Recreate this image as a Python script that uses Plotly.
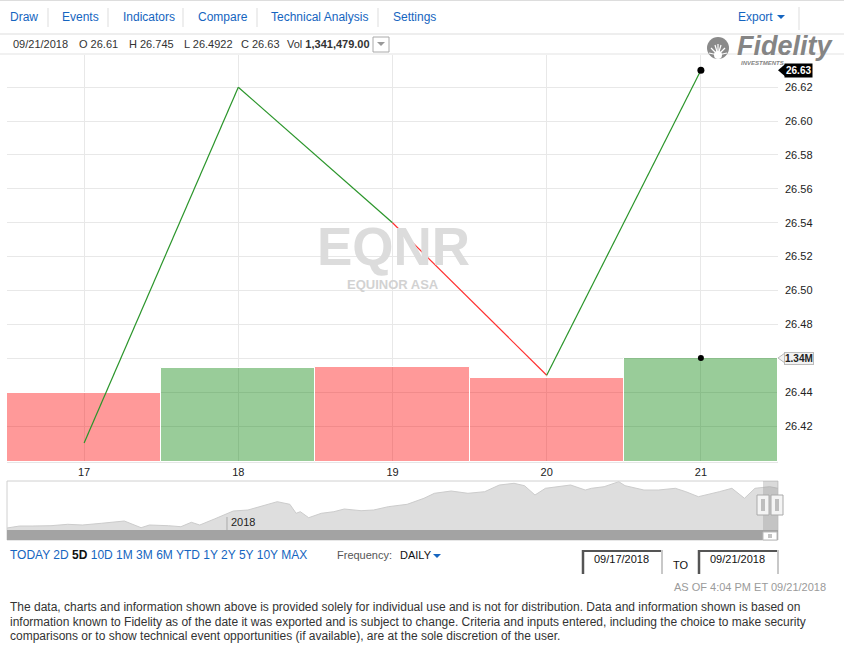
import plotly.graph_objects as go

W, H = 844, 649

# ---- data ----
days = ['17', '18', '19', '20', '21']
close = [26.41, 26.62, 26.54, 26.45, 26.63]
volume = [889000, 1211000, 1224000, 1082000, 1341479]
vol_side = ['down', 'up', 'down', 'down', 'up']
seg_side = ['up', 'up', 'down', 'up']
price_ticks = [26.42, 26.44, 26.46, 26.48, 26.50, 26.52, 26.54, 26.56, 26.58, 26.60, 26.62]

last_date = '09/21/2018'
last_open = 26.61
last_high = 26.745
last_low = 26.4922

nav_dates = ['2017-09-18', '2017-09-24', '2017-09-30', '2017-10-09', '2017-10-17', '2017-10-24',
             '2017-11-02', '2017-11-10', '2017-11-13', '2017-11-21', '2017-11-25', '2017-12-04',
             '2017-12-10', '2017-12-15', '2017-12-19', '2017-12-26', '2018-01-04', '2018-01-11',
             '2018-01-17', '2018-01-25', '2018-01-31', '2018-02-03', '2018-02-05', '2018-02-09',
             '2018-02-15', '2018-02-21', '2018-02-26', '2018-03-06', '2018-03-12', '2018-03-19',
             '2018-03-28', '2018-04-05', '2018-04-10', '2018-04-18', '2018-04-26', '2018-05-04',
             '2018-05-11', '2018-05-18', '2018-05-23', '2018-05-28', '2018-06-02', '2018-06-08',
             '2018-06-14', '2018-06-21', '2018-06-24', '2018-06-30', '2018-07-07', '2018-07-10',
             '2018-07-19', '2018-07-26', '2018-08-03', '2018-08-08', '2018-08-14', '2018-08-24',
             '2018-08-30', '2018-09-05', '2018-09-10', '2018-09-17', '2018-09-21']
nav_close = [19.32, 19.64, 19.64, 19.69, 19.91, 19.80,
             20.07, 20.33, 20.44, 19.37, 19.80, 19.69,
             19.53, 20.23, 19.80, 20.76, 22.04, 22.20,
             22.73, 23.53, 23.11, 21.67, 21.93, 20.97,
             21.67, 21.93, 22.36, 22.09, 22.20, 22.73,
             23.11, 24.07, 24.87, 25.24, 24.87, 25.13,
             26.20, 26.47, 26.09, 24.60, 25.67, 25.93,
             26.20, 25.40, 25.67, 25.93, 26.73, 26.09,
             25.40, 25.40, 25.67, 25.13, 24.33, 25.13,
             25.67, 24.07, 25.67, 25.93, 25.67]

menu_items = ['Draw', 'Events', 'Indicators', 'Compare', 'Technical Analysis', 'Settings']
range_buttons = ['TODAY', '2D', '5D', '10D', '1M', '3M', '6M', 'YTD', '1Y', '2Y', '5Y', '10Y', 'MAX']
active_range = '5D'
date_from, date_to = '09/17/2018', '09/21/2018'
as_of = 'AS OF 4:04 PM ET 09/21/2018'
symbol, company = 'EQNR', 'EQUINOR ASA'
footer = ['The data, charts and information shown above is provided solely for individual use and is not for distribution. Data and information shown is based on',
          'information known to Fidelity as of the date it was exported and is subject to change. Criteria and inputs entered, including the choice to make security',
          'comparisons or to show technical event opportunities (if available), are at the sole discretion of the user.']

FONT = 'Liberation Sans, Arial, sans-serif'
BLUE = '#1565c0'
side_color = {'up': 'rgba(0,128,0,0.4)', 'down': 'rgba(255,0,0,0.4)'}
line_color = {'up': '#2a952a', 'down': '#ff3030'}


def px(x):
    return x / W


def py(y):
    return 1 - y / H


shapes = []
annotations = []


def rect(x0, y0, x1, y1, fill=None, line='rgba(0,0,0,0)', lw=1):
    shapes.append(dict(type='rect', xref='paper', yref='paper', x0=px(x0), x1=px(x1),
                       y0=py(y1), y1=py(y0), fillcolor=fill, line=dict(color=line, width=lw), layer='above'))


def hline(x0, x1, y, color='#e0e0e0', lw=1):
    shapes.append(dict(type='line', xref='paper', yref='paper', x0=px(x0), x1=px(x1),
                       y0=py(y), y1=py(y), line=dict(color=color, width=lw), layer='above'))


def vline(x, y0, y1, color='#e0e0e0', lw=1):
    shapes.append(dict(type='line', xref='paper', yref='paper', x0=px(x), x1=px(x),
                       y0=py(y0), y1=py(y1), line=dict(color=color, width=lw), layer='above'))


def caret(x, y, color):
    shapes.append(dict(type='path', xref='paper', yref='paper', fillcolor=color, line=dict(width=0),
                       path=f'M {px(x - 4)},{py(y - 2)} L {px(x + 4)},{py(y - 2)} L {px(x)},{py(y + 2)} Z'))


def text(s, x, y, size=11, color='#333', xanchor='left', **kw):
    annotations.append(dict(text=s, x=px(x), y=py(y), xref='paper', yref='paper', showarrow=False,
                            xanchor=xanchor, yanchor='middle', font=dict(family=FONT, size=size, color=color), **kw))


fig = go.Figure()

# volume bars (primary y), price line on top (y2)
fig.add_trace(go.Bar(x=days, y=volume, marker=dict(color=[side_color[s] for s in vol_side],
                     line=dict(color='white', width=1)), xaxis='x', yaxis='y', hoverinfo='skip'))
fig.add_trace(go.Scatter(x=days[-1:], y=volume[-1:], mode='markers', marker=dict(color='black', size=6),
                         xaxis='x', yaxis='y'))
for i, s in enumerate(seg_side):
    fig.add_trace(go.Scatter(x=days[i:i + 2], y=close[i:i + 2], mode='lines',
                             line=dict(color=line_color[s], width=1.2), xaxis='x', yaxis='y2'))
fig.add_trace(go.Scatter(x=days[-1:], y=close[-1:], mode='markers', marker=dict(color='black', size=7),
                         xaxis='x', yaxis='y2'))

# navigator
fig.add_trace(go.Scatter(x=nav_dates, y=nav_close, mode='lines', fill='tozeroy', fillcolor='#dedede',
                         line=dict(color='#cccccc', width=1), xaxis='x2', yaxis='y3'))

# ---- page chrome ----
hline(0, W, 0.5, '#dddddd')
hline(0, W, 34, '#dddddd')
hline(0, W, 54, '#e3e3e3')
menu_x = [8, 60, 121, 196, 269, 391]
for name, x in zip(menu_items, menu_x):
    text(name, x, 17, 12, BLUE)
for x in [48, 108, 183, 257, 378]:
    vline(x, 8, 27, '#dddddd')
vline(799, 7, 30, '#dddddd')
text('Export', 736, 17, 12, BLUE)
caret(781, 17, BLUE)

text(last_date, 11, 44)
text(f'O {last_open}', 77, 44)
text(f'H {last_high}', 127, 44)
text(f'L {last_low}', 182, 44)
text(f'C {close[-1]}', 239, 44)
text(f'Vol <b>{volume[-1]:,.2f}</b>', 285, 44)
rect(373, 37, 389, 52, 'white', '#aaaaaa')
caret(381, 44, '#999999')

# watermark
text(f'<b>{symbol}</b>', 393, 246, 53, '#dcdcdc', 'center')
text(f'<b>{company}</b>', 393, 284, 13, '#d2d2d2', 'center')

# Fidelity logo
shapes.append(dict(type='circle', xref='paper', yref='paper', x0=px(707), x1=px(729), y0=py(59), y1=py(37),
                   fillcolor='#8a8a8a', line=dict(width=0)))
for dx, dy in [(-9, -2), (-7, -7), (-3, -10), (0, -11), (3, -10), (7, -7), (9, -2)]:
    shapes.append(dict(type='line', xref='paper', yref='paper', x0=px(718), y0=py(55), x1=px(718 + dx),
                       y1=py(55 + dy), line=dict(color='white', width=1.2)))
shapes.append(dict(type='circle', xref='paper', yref='paper', x0=px(714), x1=px(722), y0=py(59), y1=py(51),
                   fillcolor='white', line=dict(width=0)))
annotations.append(dict(text='Fidelity', x=px(735), y=py(46), xref='paper', yref='paper', showarrow=False,
                        xanchor='left', yanchor='middle',
                        font=dict(family=FONT, size=27, color='#858585', weight='bold', style='italic')))
annotations.append(dict(text='INVESTMENTS', x=px(739), y=py(63.5), xref='paper', yref='paper',
                        showarrow=False, xanchor='left', yanchor='middle',
                        font=dict(family=FONT, size=6, color='#858585', weight='bold', style='italic')))

# last value badges
annotations.append(dict(text=f'<b>{close[-1]:.2f}</b>', x=px(784), y=close[-1], xref='paper', yref='y2',
                        showarrow=False, xanchor='left', yanchor='middle', bgcolor='black', borderpad=1,
                        font=dict(family=FONT, size=10, color='white')))
shapes.append(dict(type='path', xref='paper', yref='y2', fillcolor='black', line=dict(width=0),
                   path=f'M {px(778)},{close[-1]} L {px(785)},{close[-1] + 0.0035} L {px(785)},{close[-1] - 0.0035} Z'))
vmax = volume[-1] * (462 - 55) / (462 - 358)
vstep = vmax / (462 - 55)
shapes.append(dict(type='path', xref='paper', yref='y', fillcolor='#f2f2f2', line=dict(color='#bbbbbb', width=1),
                   path=f'M {px(778)},{volume[-1]} L {px(785)},{volume[-1] + 5 * vstep} L {px(785)},{volume[-1] - 5 * vstep} Z'))
annotations.append(dict(text=f'<b>{volume[-1] / 1e6:.2f}M</b>', x=px(784), y=volume[-1], xref='paper', yref='y',
                        showarrow=False, xanchor='left', yanchor='middle', bgcolor='#f2f2f2', bordercolor='#bbbbbb',
                        borderwidth=1, borderpad=0, font=dict(family=FONT, size=10, color='#222')))

# navigator chrome
rect(7, 481, 778, 540, None, '#d0d0d0')
rect(7, 530, 778, 540, '#a3a3a3')
rect(763, 481, 778, 530, 'rgba(150,150,150,0.35)')
rect(763, 532, 777, 540, 'white', '#bbbbbb')
vline(769, 534, 538, '#888888')
vline(771, 534, 538, '#888888')
for hx in [757, 771]:
    rect(hx, 495, hx + 12, 515, '#f4f4f4', '#aaaaaa')
    vline(hx + 5, 499, 511, '#888888')
    vline(hx + 7, 499, 511, '#888888')
shapes.append(dict(type='line', xref='x2', yref='paper', x0='2018-01-01', x1='2018-01-01',
                   y0=py(530), y1=py(517), line=dict(color='#aaaaaa', width=1)))
annotations.append(dict(text='2018', x='2018-01-01', y=py(522), xref='x2', yref='paper', showarrow=False,
                        xanchor='left', yanchor='middle', xshift=2, font=dict(family=FONT, size=11, color='#222')))

# range buttons
parts = []
for r in range_buttons:
    if r == active_range:
        parts.append(f'<span style="color:#111"><b>{r}</b></span>')
    else:
        parts.append(f'<span style="color:{BLUE}">{r}</span>')
text(' '.join(parts), 8, 555, 12)
text('Frequency:', 335, 555, 11, '#555')
text('DAILY', 398, 555, 11, '#111')
caret(437, 556, BLUE)

# date boxes
for x0, d in [(582, date_from), (698, date_to)]:
    rect(x0, 550, x0 + 81, 574, 'white')
    vline(x0 + 1, 550, 574, '#555555', 2.5)
    hline(x0, x0 + 81, 551, '#555555', 2)
    vline(x0 + 80, 550, 574, '#c8c8c8', 2)
    text(d, x0 + 10, 559, 11, '#111')
text('TO', 671, 565, 11, '#111')
text(as_of, 828, 587, 11, '#9a9a9a', 'right')

for i, line in enumerate(footer):
    text(line, 8, 607 + i * 14.5, 12, '#333')

fig.update_layout(
    width=W, height=H, autosize=False, margin=dict(l=0, r=0, t=0, b=0),
    paper_bgcolor='white', plot_bgcolor='white', showlegend=False,
    font=dict(family=FONT, size=11, color='#222'),
    bargap=0,
    xaxis=dict(domain=[px(7), px(778)], type='category', range=[-0.5, 4.5], anchor='y',
               showgrid=True, gridcolor='#e8e8e8', ticks='', showline=True, linecolor='#e6e6e6',
               tickfont=dict(size=11, color='#222'), zeroline=False, fixedrange=True),
    yaxis=dict(domain=[py(462), py(55)], range=[0, vmax], visible=False, fixedrange=True),
    yaxis2=dict(overlaying='y', side='right', anchor='x', range=[26.3988, 26.639],
                tickmode='array', tickvals=price_ticks, tickformat='.2f', showgrid=True, gridcolor='#e8e8e8',
                zeroline=False, ticks='', ticklabelstandoff=6, tickfont=dict(size=11, color='#222')),
    xaxis2=dict(domain=[px(7), px(778)], type='date', range=['2017-09-18', '2018-09-21'], anchor='y3',
                visible=False),
    yaxis3=dict(domain=[py(530), py(481)], range=[19.0, 26.84], visible=False),
    shapes=shapes,
    annotations=annotations,
)

fig.write_html('out.html', config={'displayModeBar': False, 'responsive': False},
               post_script="document.body.style.margin='0';document.body.style.overflow='hidden';")
